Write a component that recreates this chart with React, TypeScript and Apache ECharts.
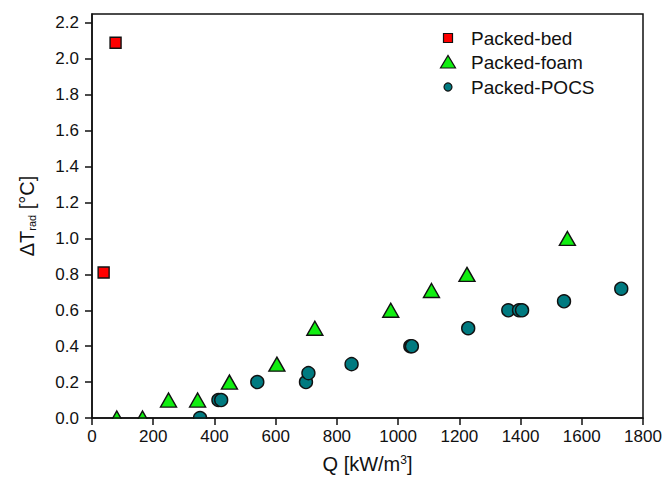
import React, { useEffect, useRef } from "react";
import * as echarts from "echarts";

const seriesNames = ["Packed-bed", "Packed-foam", "Packed-POCS"];

const bedQ = [38, 77];
const bedT = [0.81, 2.09];

const foamQ = [81, 165, 250, 345, 449, 604, 728, 976, 1109, 1225, 1553];
const foamT = [0, 0, 0.1, 0.1, 0.2, 0.3, 0.5, 0.6, 0.71, 0.8, 1.0];

const pocsQ = [353, 413, 422, 540, 699, 707, 848, 1040, 1045, 1229, 1360, 1395, 1405, 1542, 1729];
const pocsT = [0, 0.1, 0.1, 0.2, 0.2, 0.25, 0.3, 0.4, 0.4, 0.5, 0.6, 0.6, 0.6, 0.65, 0.72];

const xTicks = [0, 200, 400, 600, 800, 1000, 1200, 1400, 1600, 1800];
const yTicks = [0, 0.2, 0.4, 0.6, 0.8, 1.0, 1.2, 1.4, 1.6, 1.8, 2.0, 2.2];

const zip = (a: number[], b: number[]) => a.map((v, i) => [v, b[i]]);

export default function App() {
  const ref = useRef<HTMLDivElement>(null);
  useEffect(() => {
    const chart = echarts.init(ref.current!, null, { renderer: "svg" });
    const font = "'Liberation Sans', Arial, sans-serif";
    const ink = "#111";
    const W = 666, H = 482;
    const G = { left: 92, right: 23, top: 14, bottom: 64 };
    const colors = ["#ff0000", "#11ee11", "#007a80"];
    chart.setOption({
      animation: false,
      textStyle: { fontFamily: font },
      grid: { ...G, show: true, borderColor: ink, borderWidth: 1.5, backgroundColor: "transparent" },
      xAxis: {
        type: "value",
        min: 0,
        max: 1800,
        interval: 200,
        z: 10,
        name: "{a|Q [kW/m}{s|3}{a|]}",
        nameLocation: "middle",
        nameGap: 36,
        nameTextStyle: {
          rich: {
            a: { fontSize: 20, color: ink, fontFamily: font, verticalAlign: "bottom" },
            s: { fontSize: 12, color: ink, fontFamily: font, verticalAlign: "top" },
          },
        },
        axisLine: { show: true, onZero: false, lineStyle: { color: ink, width: 1.5 } },
        axisTick: { show: true, inside: false, length: 7, lineStyle: { color: ink, width: 1.5 }, customValues: xTicks },
        axisLabel: {
          color: ink,
          fontSize: 17,
          fontFamily: font,
          margin: 10,
          customValues: xTicks,
          formatter: (v: number) => String(v),
        },
        splitLine: { show: false },
      },
      yAxis: {
        type: "value",
        min: 0,
        max: 2.25,
        interval: 0.2,
        z: 10,
        name: "{a|ΔT}{b|rad}{a| [°C]}",
        nameLocation: "middle",
        nameRotate: 90,
        nameGap: 55,
        nameTextStyle: {
          rich: {
            a: { fontSize: 20, color: ink, fontFamily: font, verticalAlign: "top" },
            b: { fontSize: 11, color: ink, fontFamily: font, verticalAlign: "bottom" },
          },
        },
        axisLine: { show: true, onZero: false, lineStyle: { color: ink, width: 1.5 } },
        axisTick: { show: true, inside: false, length: 7, lineStyle: { color: ink, width: 1.5 }, customValues: yTicks },
        axisLabel: {
          color: ink,
          fontSize: 17,
          fontFamily: font,
          margin: 13,
          customValues: yTicks,
          formatter: (v: number) => v.toFixed(1),
        },
        splitLine: { show: false },
      },
      series: [
        {
          name: seriesNames[0],
          type: "scatter",
          symbol: "rect",
          symbolSize: 11,
          data: zip(bedQ, bedT),
          itemStyle: { color: colors[0], borderColor: ink, borderWidth: 1.4, opacity: 1 },
          z: 3,
        },
        {
          name: seriesNames[1],
          type: "scatter",
          symbol: "triangle",
          symbolSize: [16, 14],
          data: zip(foamQ, foamT),
          itemStyle: { color: colors[1], borderColor: ink, borderWidth: 1.4, opacity: 1 },
          z: 3,
        },
        {
          name: seriesNames[2],
          type: "scatter",
          symbol: "circle",
          symbolSize: 13,
          data: zip(pocsQ, pocsT),
          itemStyle: { color: colors[2], borderColor: ink, borderWidth: 1.4, opacity: 1 },
          z: 3,
        },
      ],
      graphic: [
        {
          type: "rect",
          z: 5,
          silent: true,
          shape: { x: G.left + 1, y: H - G.bottom + 1, width: W - G.left - G.right - 2, height: 9 },
          style: { fill: "#fff" },
        },
        {
          type: "rect",
          z: 20,
          shape: { x: 443.5, y: 33.5, width: 9, height: 9 },
          style: { fill: colors[0], stroke: ink, lineWidth: 1.2 },
        },
        {
          type: "polygon",
          z: 20,
          shape: { points: [[440.5, 68], [455.5, 68], [448, 55.5]] },
          style: { fill: colors[1], stroke: ink, lineWidth: 1.2 },
        },
        {
          type: "circle",
          z: 20,
          shape: { cx: 448, cy: 87, r: 4 },
          style: { fill: colors[2], stroke: ink, lineWidth: 1.2 },
        },
        ...seriesNames.map((n, i) => ({
          type: "text",
          z: 20,
          x: 471,
          y: [38, 62, 87][i],
          style: {
            text: n,
            fontSize: 19,
            fontFamily: font,
            fill: ink,
            textAlign: "left",
            textVerticalAlign: "middle",
          },
        })),
      ],
    });
    return () => chart.dispose();
  }, []);
  return <div ref={ref} style={{ width: 666, height: 482, position: "absolute", left: 0, top: 0 }} />;
}
